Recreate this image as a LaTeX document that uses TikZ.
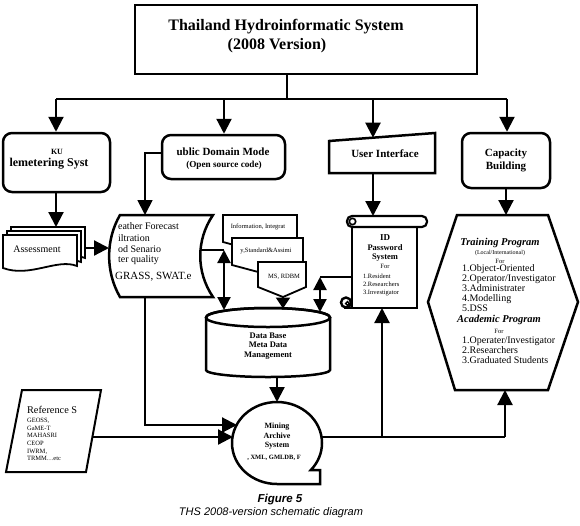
\documentclass[tikz,border=0pt]{standalone}
\usepackage{fontspec}
\setmainfont{Liberation Serif}
\newfontfamily\capfont{Liberation Sans}
\usetikzlibrary{arrows.meta}
\newcommand\fsz[2]{\fontsize{#1}{#2}\selectfont}
\begin{document}
\begin{tikzpicture}[x=1pt,y=-1pt,line width=2.2pt,
  arr/.style={-{Triangle[length=15pt,width=15pt]}},
  darr/.style={{Triangle[length=13pt,width=13pt]}-{Triangle[length=13pt,width=13pt]}},
  rbox/.style={draw,rounded corners=9pt,line width=2.5pt,fill=white,inner sep=0pt,align=center},
  shp/.style={draw,fill=white,line width=2.5pt},
  docs/.style={draw,fill=white,line width=1.8pt},
  lbl/.style={inner sep=0pt,align=center},
  lst/.style={inner sep=0pt,align=left,anchor=west}]
\useasboundingbox (0,0) rectangle (580,525);

% title
\node[draw,line width=2.2pt,minimum width=342pt,minimum height=69pt,inner sep=0pt] (top) at (306,39.5) {};
\node[lbl,font=\bfseries\fsz{16}{19}] (t1) at (286,27) {Thailand Hydroinformatic System};
\node[lbl,font=\bfseries\fsz{16}{19}] (t2) at (277,46) {(2008 Version)};

% distribution bar
\coordinate (j0) at (287,99);
\coordinate (b1) at (56,99);
\coordinate (b2) at (224,99);
\coordinate (b3) at (373,99);
\coordinate (b4) at (507,99);
\draw (top.south -| j0) -- (j0);
\draw (b1) -- (b4);

% KU telemetering
\node[rbox,minimum width=107pt,minimum height=59pt] (ku) at (56.5,162.5) {};
\node[lbl,font=\bfseries\fsz{8}{9}] (kut) at (57,152) {KU};
\node[lbl,font=\bfseries\fsz{12}{13}] (kus) at (49,164) {lemetering Syst};
\draw[arr] (b1) -- (b1 |- ku.north);

% public domain
\node[rbox,minimum width=123pt,minimum height=44pt] (pub) at (223.5,157) {};
\node[lbl,font=\bfseries\fsz{11}{13}] (pubt) at (223,152) {ublic Domain Mode};
\node[lbl,font=\bfseries\fsz{9.2}{11}] (pubs) at (224,165) {(Open source code)};
\draw[arr] (b2) -- (b2 |- pub.north);

% user interface
\coordinate (uiT) at (373,137.7);
\coordinate (uiB) at (373,173);
\draw[shp] (329,141) -- (435,133) -- (435,173) -- (329,173) -- cycle;
\node[lbl,font=\bfseries\fsz{11}{13}] (ui) at (385,154) {User Interface};
\draw[arr] (b3) -- (uiT);

% capacity building
\node[rbox,minimum width=88pt,minimum height=55pt,font=\bfseries\fsz{11}{13}] (cap) at (506,160.5) {Capacity\\Building};
\draw[arr] (b4) -- (b4 |- cap.north);

% hexagon
\coordinate (hexT) at (506,215);
\coordinate (hexB) at (505,390);
\draw[shp] (457,215) -- (548,215) -- (578,302) -- (548,390) -- (455,390) -- (428,302) -- cycle;
\draw[arr] (cap.south) -- (hexT);
\node[lbl,font=\bfseries\itshape\fsz{10.5}{12}] (tp) at (500,243) {Training Program};
\node[lbl,font=\fsz{6}{7}] (tpl) at (500,253) {(Local/International)};
\node[lbl,font=\fsz{6.5}{7}] (tpf) at (500,261) {For};
\node[lst,font=\fsz{10}{9.8}] (tpi) at (461,288) {1.Object-Oriented\\2.Operator/Investigator\\3.Administrater\\4.Modelling\\5.DSS};
\node[lbl,font=\bfseries\itshape\fsz{10.5}{12}] (ap) at (499,320) {Academic Program};
\node[lbl,font=\fsz{6.5}{7}] (apf) at (499,331) {For};
\node[lst,font=\fsz{10}{9.8}] (api) at (461,350) {1.Operater/Investigator\\2.Researchers\\3.Graduated Students};

% ID password scroll
\coordinate (scT) at (373,216);
\coordinate (scB) at (382,308);
\coordinate (scL) at (352,277);
\draw[draw,fill=white,line width=2.2pt] (352,225) -- (352,308) -- (417,308) -- (417,225);
\draw[draw,fill=white,line width=2.2pt,rounded corners=5pt] (347,216) rectangle (427,227);
\draw[line width=1.6pt] (352.5,221.5) circle (3.2);
\draw[line width=2.2pt] (344,308) -- (352,308);
\draw[draw,fill=white,line width=2.4pt] (346,302.5) circle (5);
\draw[line width=1.4pt] (347.5,303.5) circle (1.8);
\draw[arr] (uiB) -- (scT);
\node[lbl,font=\bfseries\fsz{9}{10}] (idt) at (385,238) {ID};
\node[lbl,font=\bfseries\fsz{8.5}{10}] (idp) at (385,248) {Password};
\node[lbl,font=\bfseries\fsz{8.5}{10}] (ids) at (385,257.5) {System};
\node[lbl,font=\fsz{6.5}{7}] (idf) at (385,266.5) {For};
\node[lst,font=\fsz{6.5}{8.3}] (idl) at (362,285) {1.Resident\\2.Researchers\\3.Investigator};

% assessment multi-document
\foreach \d in {8,4,0} {
  \begin{scope}[shift={(\d,-\d)}]
    \draw[docs] (3,235) -- (77,235) -- (77,266) .. controls (57,258) and (30,278) .. (3,268) -- cycle;
  \end{scope}
}
\coordinate (asR) at (85,248);
\node[lbl,font=\fsz{10}{12}] (as) at (37,249) {Assessment};
\draw[arr] (ku.south -| b1) -- (56,227);

% stored data shape
\coordinate (dsT) at (145,215);
\coordinate (dsB) at (145,297);
\coordinate (dsL) at (109,248);
\coordinate (dsR) at (201,250);
\draw[shp] (120,215) -- (213,215) .. controls (196,240) and (196,272) .. (213,297) -- (120,297) .. controls (105.5,272) and (105.5,240) .. (120,215) -- cycle;
\node[lst,font=\fsz{10}{12}] (ds1) at (117,226) {eather Forecast};
\node[lst,font=\fsz{10}{12}] (ds2) at (117,238) {iltration};
\node[lst,font=\fsz{10}{12}] (ds3) at (117,249) {od Senario};
\node[lst,font=\fsz{10}{12}] (ds4) at (117,260) {ter quality};
\node[lst,font=\fsz{11}{12}] (ds5) at (114,277) {GRASS, SWAT.e};
\draw[arr,line width=1.8pt] ([yshift=4pt]pub.west) -| (dsT);
\draw[arr] (asR) -- (dsL);

% cascading documents
\draw[docs] (223,215) -- (297,215) -- (297,262) -- (223,242) -- cycle;
\draw[docs] (232,238) -- (303,238) -- (303,284) -- (232,265) -- cycle;
\coordinate (d3B) at (283,297);
\draw[docs] (258,262) -- (306,262) -- (306,287) -- (d3B) -- (258,287) -- cycle;
\node[lbl,font=\fsz{6.5}{7}] (dc1) at (258,227) {Information, Integrat};
\node[lbl,font=\fsz{6.5}{7}] (dc2) at (266,251) {y,Standard\&Assimi};
\node[lbl,font=\fsz{6.5}{7}] (dc3) at (284,277) {MS, RDBM};

% database cylinder
\coordinate (dbA) at (224,310);
\coordinate (dbD) at (283,308.5);
\coordinate (dbC) at (320,312);
\coordinate (dbB) at (277,377);
\draw[shp] (206,317.5) -- (206,370) arc[start angle=180,end angle=0,x radius=62,y radius=7] -- (330,317.5) arc[start angle=0,end angle=-180,x radius=62,y radius=9.5] -- cycle;
\draw[line width=2.5pt] (268,317.5) ellipse [x radius=62, y radius=9.5];
\node[lbl,font=\bfseries\fsz{8.5}{9.2}] (db) at (268,346) {Data Base\\Meta Data\\Management};

% connectors to database
\coordinate (dk) at (224,250);
\draw (dsR) -- (dk);
\draw[darr] (dk) -- (dbA);
\draw[-{Triangle[length=11pt,width=14pt]}] (d3B) -- (dbD);
\coordinate (sk) at (320,277);
\draw (scL) -- (sk);
\draw[darr] (sk) -- (dbC);

% mining archive
\coordinate (mnT) at (277,402);
\coordinate (mnL1) at (237,425);
\coordinate (mnL2) at (233,437);
\coordinate (mnR) at (322,437);
\draw[shp] (277,484) arc[start angle=90,end angle=401.2,x radius=45,y radius=41] -- (320,470) -- (320,484) -- cycle;
\node[lbl,font=\bfseries\fsz{8}{9.5}] (mn) at (277,436.5) {Mining\\Archive\\System};
\node[lbl,font=\bfseries\fsz{6.5}{7}] (mnx) at (274,458) {, XML, GMLDB, F};
\draw[arr] (dbB) -- (mnT);
\coordinate (mk) at (145,425);
\draw[arr] (dsB) -- (mk) -- (mnL1);

% reference sources
\draw[draw,fill=white,line width=2pt] (22,390) -- (101,390) -- (86,472) -- (6,472) -- cycle;
\coordinate (refR) at (92,437);
\node[lst,font=\fsz{10.3}{12}] (ref) at (26,410) {Reference S};
\node[lst,font=\fsz{6.5}{7.6}] (refl) at (26,439.5) {GEOSS,\\GaME-T\\MAHASRI\\CEOP\\IWRM,\\TRMM…etc};
\draw[arr] (refR) -- (mnL2);

% outputs
\coordinate (rk) at (382,437);
\coordinate (rk2) at (505,437);
\draw (mnR) -- (rk2);
\draw[arr] (rk2) -- (hexB);
\draw[arr] (rk) -- (scB);

% caption
\node[lbl,font=\capfont\bfseries\itshape\fsz{11.5}{13}] (fig) at (280,500) {Figure 5};
\node[lbl,font=\capfont\itshape\fsz{11}{13}] (figs) at (271,513) {THS 2008-version schematic diagram};
\end{tikzpicture}
\end{document}
